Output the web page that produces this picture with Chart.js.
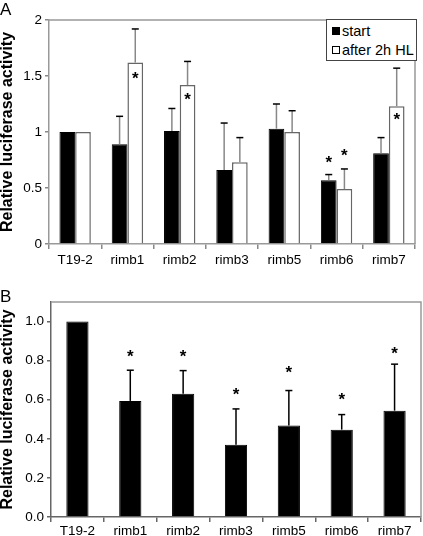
<!DOCTYPE html>
<html>
<head>
<meta charset="utf-8">
<script src="https://cdn.jsdelivr.net/npm/chart.js@4.4.1/dist/chart.umd.min.js"></script>
<style>
  body { margin: 0; background: #fff; font-family: "Liberation Sans", Arial, sans-serif; }
  #wrap { position: relative; width: 423px; height: 536px; overflow: hidden; }
  canvas { position: absolute; left: 0; }
  .panel { position: absolute; left: 0; font-size: 17px; line-height: 17px; color: #000; }
  #legendA { position: absolute; left: 326px; top: 19px; width: 91px; height: 42px;
    border: 1px solid #444; background: #fff; font-size: 14.5px; box-sizing: border-box; }
  #legendA div { position: absolute; left: 5px; white-space: nowrap; line-height: 18px; }
  #legendA span.sq { display: inline-block; width: 6px; height: 6px; margin-right: 2px;
    vertical-align: 1px; border: 1px solid #000; }
</style>
</head>
<body>
<div id="wrap">
  <canvas id="chartA" width="423" height="270" style="top:0"></canvas>
  <canvas id="chartB" width="423" height="266" style="top:270px"></canvas>
  <div class="panel" style="top:1px">A</div>
  <div class="panel" style="top:288px">B</div>
  <div id="legendA">
    <div style="top:2px"><span class="sq" style="background:#000"></span>start</div>
    <div style="top:21px"><span class="sq" style="background:#fff"></span>after 2h HL</div>
  </div>
</div>
<script>
// categories
const categories = ["T19-2", "rimb1", "rimb2", "rimb3", "rimb5", "rimb6", "rimb7"];

// panel A
const startA = [1.0, 0.89, 1.01, 0.66, 1.03, 0.57, 0.81];
const startAErr = [0, 0.25, 0.20, 0.42, 0.22, 0.05, 0.14];
const afterA = [1.0, 1.62, 1.42, 0.73, 1.0, 0.49, 1.23];
const afterAErr = [0, 0.30, 0.21, 0.22, 0.19, 0.18, 0.34];
const startAStars = [null, null, null, null, null, 0.76, null];
const afterAStars = [null, 1.51, 1.32, null, null, 0.82, 1.14];
const ticksA = [0, 0.5, 1, 1.5, 2];

// panel B
const valuesB = [1.0, 0.594, 0.631, 0.37, 0.468, 0.447, 0.544];
const errB = [0, 0.157, 0.118, 0.183, 0.179, 0.077, 0.238];
const starsB = [null, 0.84, 0.84, 0.645, 0.754, 0.62, 0.853];
const ticksB = [0, 0.2, 0.4, 0.6, 0.8, 1.0];

const FONT = "'Liberation Sans', Arial, sans-serif";

/* =======================
   ERROR BARS, STARS, FRAME
======================= */
const extras = {
  id: "extras",
  afterDatasetsDraw(chart, args, opts) {
    const ctx = chart.ctx;
    const area = chart.chartArea;
    const y = chart.scales.y;

    // frame top / right
    ctx.save();
    ctx.strokeStyle = opts.frameColor;
    ctx.lineWidth = 1.5;
    ctx.beginPath();
    ctx.moveTo(area.left, area.top);
    ctx.lineTo(area.right, area.top);
    ctx.lineTo(area.right, area.bottom);
    ctx.stroke();

    chart.data.datasets.forEach((ds, i) => {
      const meta = chart.getDatasetMeta(i);
      const errs = opts.errors[i];
      const stars = opts.stars[i];
      meta.data.forEach((bar, j) => {
        const v = ds.data[j];
        if (errs[j] > 0) {
          const yTop = y.getPixelForValue(v + errs[j]);
          const yBase = y.getPixelForValue(v);
          ctx.strokeStyle = opts.errColor;
          ctx.lineWidth = 1.5;
          ctx.beginPath();
          ctx.moveTo(bar.x, yBase);
          ctx.lineTo(bar.x, yTop);
          ctx.stroke();
          ctx.strokeStyle = "#000";
          ctx.beginPath();
          ctx.moveTo(bar.x - 3.5, yTop);
          ctx.lineTo(bar.x + 3.5, yTop);
          ctx.stroke();
        }
        if (stars[j] != null) {
          ctx.fillStyle = "#000";
          ctx.font = "bold 17px " + FONT;
          ctx.textAlign = "center";
          ctx.textBaseline = "middle";
          ctx.fillText("*", bar.x, y.getPixelForValue(stars[j]) + 4);
        }
      });
    });
    ctx.restore();
  }
};

function yTitle() {
  return {
    display: true,
    text: "Relative luciferase activity",
    color: "#000",
    font: { family: FONT, size: 16, weight: "bold", lineHeight: 1 },
    padding: { top: 0, bottom: 0 }
  };
}

/* =======================
   PANEL A
======================= */
new Chart(document.getElementById("chartA"), {
  type: "bar",
  data: {
    labels: categories,
    datasets: [{
      label: "start",
      data: startA,
      backgroundColor: "#000",
      borderColor: "#000",
      borderWidth: 1,
      categoryPercentage: 0.6,
      barPercentage: 1.0
    }, {
      label: "after 2h HL",
      data: afterA,
      backgroundColor: "#fff",
      borderColor: "#666",
      borderWidth: 1.5,
      categoryPercentage: 0.6,
      barPercentage: 1.0
    }]
  },
  options: {
    responsive: false,
    animation: false,
    layout: { padding: { top: 20, right: 8, left: 0, bottom: 0 } },
    plugins: {
      legend: { display: false },
      tooltip: { enabled: false },
      extras: {
        errors: [startAErr, afterAErr],
        stars: [startAStars, afterAStars],
        errColor: "#888",
        frameColor: "#999"
      }
    },
    scales: {
      x: {
        afterFit: s => { s.height = 26; },
        grid: { drawOnChartArea: false, offset: true, tickLength: 5, color: "#888", lineWidth: 1.5 },
        border: { color: "#999", width: 1.5 },
        ticks: { color: "#000", padding: 3, font: { family: FONT, size: 13.5 } }
      },
      y: {
        min: 0,
        max: 2,
        afterFit: s => { s.width = 49; },
        afterBuildTicks: s => { s.ticks = ticksA.map(v => ({ value: v })); },
        grid: { drawOnChartArea: false, tickLength: 4, color: "#888", lineWidth: 1.5 },
        border: { color: "#999", width: 1.5 },
        ticks: {
          color: "#000", padding: 3, font: { family: FONT, size: 13.5 },
          callback: v => String(v)
        },
        title: yTitle()
      }
    }
  },
  plugins: [extras]
});

/* =======================
   PANEL B
======================= */
new Chart(document.getElementById("chartB"), {
  type: "bar",
  data: {
    labels: categories,
    datasets: [{
      label: "B",
      data: valuesB,
      backgroundColor: "#000",
      borderColor: "#000",
      borderWidth: 1,
      categoryPercentage: 0.42,
      barPercentage: 1.0
    }]
  },
  options: {
    responsive: false,
    animation: false,
    layout: { padding: { top: 32, right: 2, left: 0, bottom: 0 } },
    plugins: {
      legend: { display: false },
      tooltip: { enabled: false },
      extras: {
        errors: [errB],
        stars: [starsB],
        errColor: "#000",
        frameColor: "#999"
      }
    },
    scales: {
      x: {
        afterFit: s => { s.height = 19; },
        grid: { drawOnChartArea: false, offset: true, tickLength: 5, color: "#666", lineWidth: 1.5 },
        border: { color: "#666", width: 1.5 },
        ticks: { color: "#000", padding: 1, font: { family: FONT, size: 13.5 } }
      },
      y: {
        min: 0,
        max: 1.1,
        afterFit: s => { s.width = 51; },
        afterBuildTicks: s => { s.ticks = ticksB.map(v => ({ value: v })); },
        grid: { drawOnChartArea: false, tickLength: 4, color: "#666", lineWidth: 1.5 },
        border: { color: "#666", width: 1.5 },
        ticks: {
          color: "#000", padding: 3, font: { family: FONT, size: 13.5 },
          callback: v => Number(v).toFixed(1)
        },
        title: yTitle()
      }
    }
  },
  plugins: [extras]
});
</script>
</body>
</html>
